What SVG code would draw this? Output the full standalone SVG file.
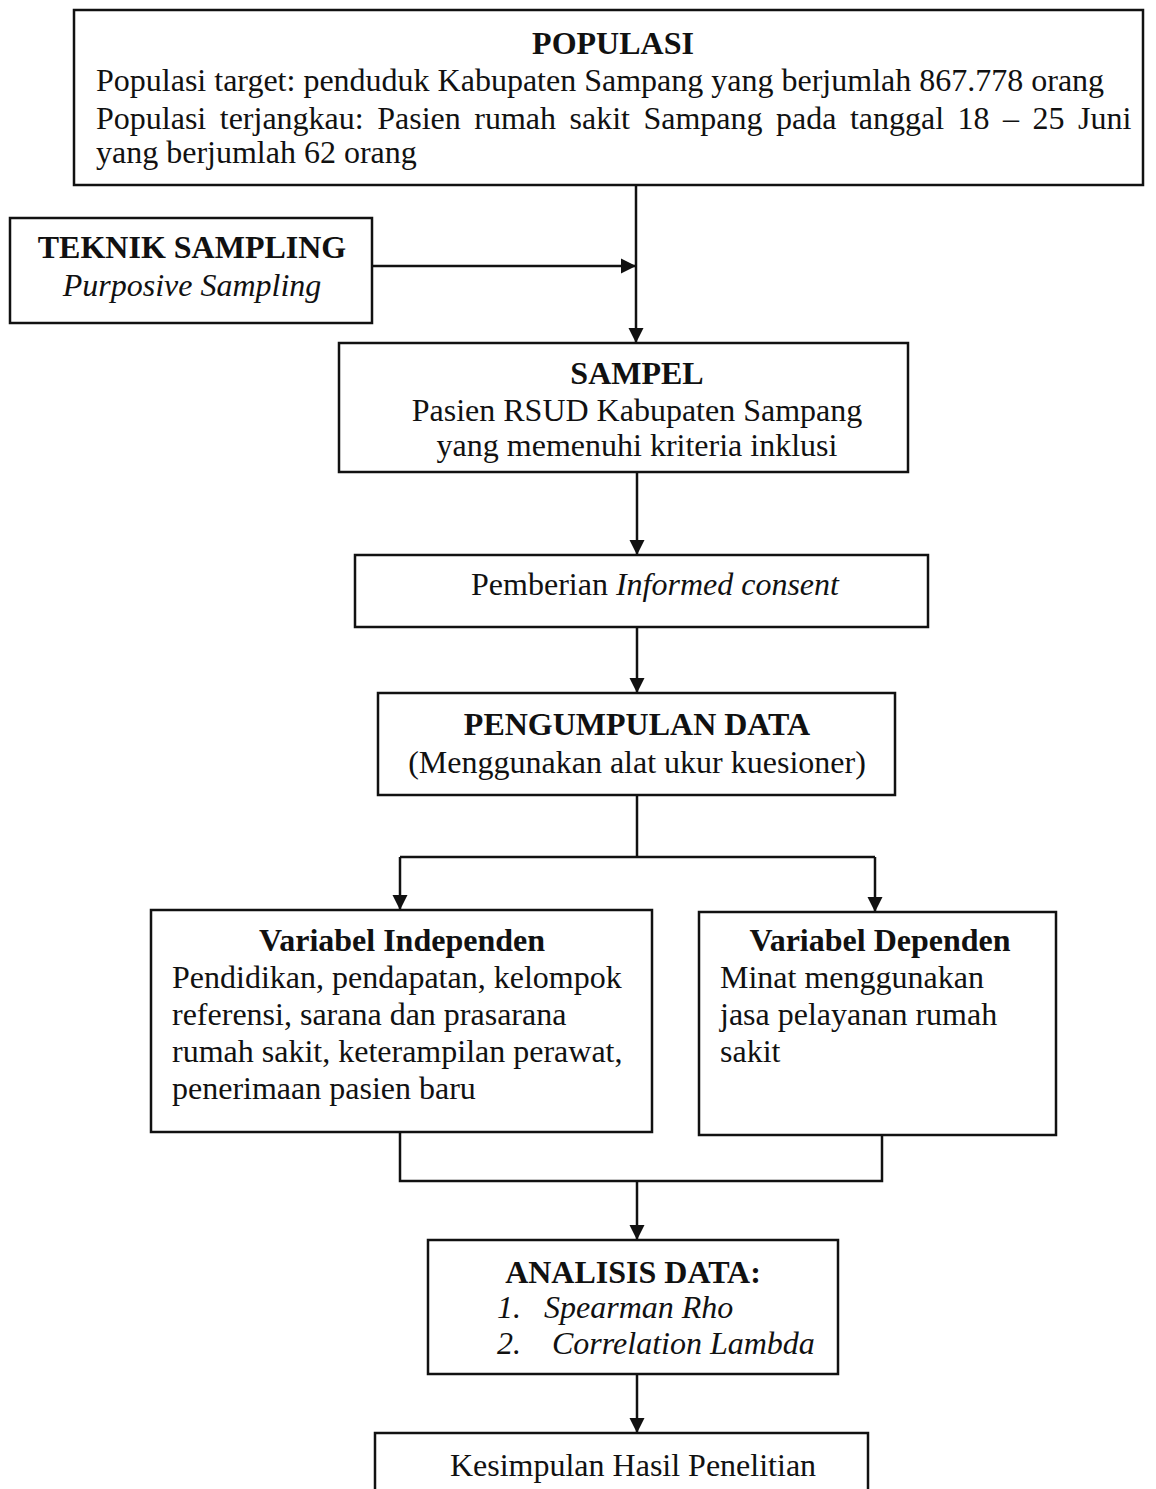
<svg xmlns="http://www.w3.org/2000/svg" width="1156" height="1489" viewBox="0 0 1156 1489">
<defs>
<style>
.box{fill:#fff;stroke:#111;stroke-width:2.5}
.ln{fill:none;stroke:#111;stroke-width:2.5}
text{font-family:"Liberation Serif","Times New Roman",serif;font-size:32px;fill:#111}
.b{font-weight:bold}
.i{font-style:italic}
.c{text-anchor:middle}
</style>
<marker id="ah" viewBox="0 0 10 10" refX="10" refY="5" markerWidth="6" markerHeight="6.5" orient="auto" markerUnits="strokeWidth">
<path d="M0,0 L10,5 L0,10 Z" fill="#111"/>
</marker>
</defs>
<rect width="1156" height="1489" fill="#fff"/>
<g id="connectors">
<line class="ln" x1="636" y1="185" x2="636" y2="343" marker-end="url(#ah)"/>
<line class="ln" x1="372" y1="266" x2="636" y2="266" marker-end="url(#ah)"/>
<line class="ln" x1="637" y1="472" x2="637" y2="555" marker-end="url(#ah)"/>
<line class="ln" x1="637" y1="627" x2="637" y2="693" marker-end="url(#ah)"/>
<polyline class="ln" points="637,795 637,857"/>
<polyline class="ln" points="400,857 875,857"/>
<line class="ln" x1="400" y1="857" x2="400" y2="910" marker-end="url(#ah)"/>
<line class="ln" x1="875" y1="857" x2="875" y2="912" marker-end="url(#ah)"/>
<polyline class="ln" points="400,1127 400,1181 882,1181 882,1127"/>
<line class="ln" x1="637" y1="1181" x2="637" y2="1240" marker-end="url(#ah)"/>
<line class="ln" x1="637" y1="1374" x2="637" y2="1433" marker-end="url(#ah)"/>
</g>
<g id="populasi">
<rect class="box" x="74" y="10" width="1069" height="175"/>
<text class="b c" x="613" y="54">POPULASI</text>
<text x="96" y="91">Populasi target: penduduk Kabupaten Sampang yang berjumlah 867.778 orang</text>
<text x="96" y="129" word-spacing="5.5">Populasi terjangkau: Pasien rumah sakit Sampang pada tanggal 18 – 25 Juni</text>
<text x="96" y="163">yang berjumlah 62 orang</text>
</g>
<g id="teknik">
<rect class="box" x="10" y="218" width="362" height="105"/>
<text class="b c" x="192" y="258">TEKNIK SAMPLING</text>
<text class="i c" x="192" y="296">Purposive Sampling</text>
</g>
<g id="sampel">
<rect class="box" x="339" y="343" width="569" height="129"/>
<text class="b c" x="637" y="384">SAMPEL</text>
<text class="c" x="637" y="421">Pasien RSUD Kabupaten Sampang</text>
<text class="c" x="637" y="456">yang memenuhi kriteria inklusi</text>
</g>
<g id="informed">
<rect class="box" x="355" y="555" width="573" height="72"/>
<text class="c" x="655" y="595">Pemberian <tspan class="i">Informed consent</tspan></text>
</g>
<g id="pengumpulan">
<rect class="box" x="378" y="693" width="517" height="102"/>
<text class="b c" x="637" y="735">PENGUMPULAN DATA</text>
<text class="c" x="637" y="773">(Menggunakan alat ukur kuesioner)</text>
</g>
<g id="independen">
<rect class="box" x="151" y="910" width="501" height="222"/>
<text class="b c" x="402" y="951">Variabel Independen</text>
<text x="172" y="988">Pendidikan, pendapatan, kelompok</text>
<text x="172" y="1025">referensi, sarana dan prasarana</text>
<text x="172" y="1062">rumah sakit, keterampilan perawat,</text>
<text x="172" y="1099">penerimaan pasien baru</text>
</g>
<g id="dependen">
<rect class="box" x="699" y="912" width="357" height="223"/>
<text class="b c" x="880" y="951">Variabel Dependen</text>
<text x="720" y="988">Minat menggunakan</text>
<text x="720" y="1025">jasa pelayanan rumah</text>
<text x="720" y="1062">sakit</text>
</g>
<g id="analisis">
<rect class="box" x="428" y="1240" width="410" height="134"/>
<text class="b c" x="633" y="1283">ANALISIS DATA:</text>
<text class="i" x="497" y="1318">1.</text>
<text class="i" x="544" y="1318">Spearman Rho</text>
<text class="i" x="497" y="1354">2.</text>
<text class="i" x="552" y="1354">Correlation Lambda</text>
</g>
<g id="kesimpulan">
<rect class="box" x="375" y="1433" width="493" height="80"/>
<text class="c" x="633" y="1476">Kesimpulan Hasil Penelitian</text>
</g>
</svg>
